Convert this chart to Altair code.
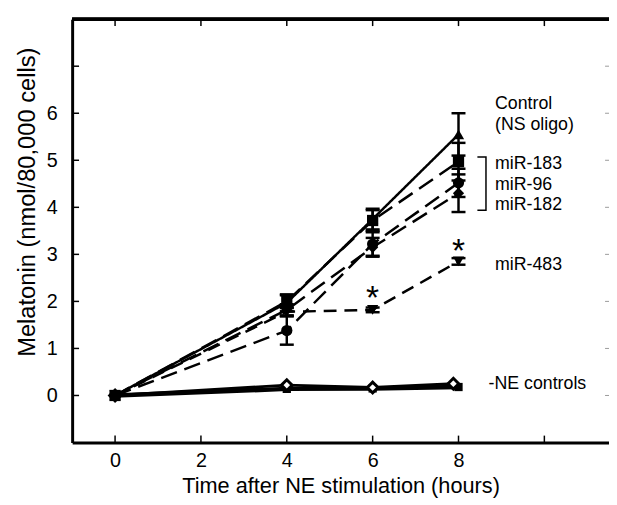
import altair as alt
import pandas as pd

# ---------------- data ----------------
hours = [0, 4, 6, 8]
series_names = ["Control", "miR-183", "miR-96", "miR-182", "miR-483"]
control = [0.0, 1.97, 3.75, 5.55]
control_err = [0.0, 0.18, 0.22, 0.45]
mir183 = [0.0, 2.00, 3.72, 4.97]
mir183_err = [0.0, 0.13, 0.22, 0.40]
mir96 = [0.0, 1.38, 3.22, 4.52]
mir96_err = [0.0, 0.30, 0.25, 0.30]
mir182 = [0.0, 1.82, 3.15, 4.30]
mir182_err = [0.0, 0.12, 0.20, 0.40]
mir483 = [0.0, 1.78, 1.82, 2.85]
mir483_err = [0.0, 0.08, 0.05, 0.07]

ne_open_hours = [0, 4, 6, 7.88]
ne_open = [0.0, 0.22, 0.17, 0.25]
ne_filled_hours = [0, 4, 6, 8]
ne_filled = [0.0, 0.14, 0.15, 0.18]

x_ticks = [0, 2, 4, 6, 8, 10]
x_labels = [0, 2, 4, 6, 8]
y_ticks = [0, 1, 2, 3, 4, 5, 6, 7]
y_labels = [0, 1, 2, 3, 4, 5, 6]

label_text = ["Control", "(NS oligo)", "miR-183", "miR-96", "miR-182", "miR-483", "-NE controls"]
label_x = [8.85, 8.85, 8.85, 8.85, 8.85, 8.85, 8.7]
label_y = [6.19, 5.74, 4.93, 4.48, 4.04, 2.78, 0.24]

star_x = [6, 8]
star_y = [2.04, 3.05]

bracket_x = [8.44, 8.64, 8.64, 8.44]
bracket_y = [5.07, 5.07, 3.94, 3.94]

# ---------------- tables ----------------
vals = [control, mir183, mir96, mir182, mir483]
errs = [control_err, mir183_err, mir96_err, mir182_err, mir483_err]
rows = []
for name, v, e in zip(series_names, vals, errs):
    for h, yv, ev in zip(hours, v, e):
        rows.append({"series": name, "hours": h, "value": yv, "err": ev,
                     "lo": yv - ev, "hi": yv + ev})
df = pd.DataFrame(rows)
err_df = df[df["err"] > 0].copy()
caps = pd.concat([
    err_df.assign(cap=err_df["lo"]),
    err_df.assign(cap=err_df["hi"]),
])

ne_o = pd.DataFrame({"hours": ne_open_hours, "value": ne_open})
ne_f = pd.DataFrame({"hours": ne_filled_hours, "value": ne_filled})
labels = pd.DataFrame({"x": label_x, "y": label_y, "text": label_text})
stars = pd.DataFrame({"x": star_x, "y": star_y, "text": ["*", "*"]})
bracket = pd.DataFrame({"x": bracket_x, "y": bracket_y, "o": list(range(len(bracket_x)))})
xt = pd.DataFrame({"t": x_ticks})
yt = pd.DataFrame({"t": y_ticks})

FONT = "Liberation Sans"
W, H = 544, 429
XMAX = -1 + W / 43.5
xs = alt.Scale(domain=[-1, XMAX], nice=False, zero=False)
ys = alt.Scale(domain=[-1, 8], nice=False, zero=False)

shape_scale = alt.Scale(domain=series_names,
                        range=["triangle-up", "square", "circle", "diamond", "triangle-down"])
dash_scale = alt.Scale(domain=series_names,
                       range=[[1, 0], [17, 8], [17, 8], [17, 8], [13, 8]])

X = lambda f: alt.X(f, scale=xs, axis=None)
Y = lambda f: alt.Y(f, scale=ys, axis=None)

lines = alt.Chart(df).mark_line(color="black", strokeWidth=2.5).encode(
    x=X("hours:Q"), y=Y("value:Q"),
    detail="series:N",
    strokeDash=alt.StrokeDash("series:N", scale=dash_scale, legend=None),
)

ne_line_f = alt.Chart(ne_f).mark_line(color="black", strokeWidth=4.5).encode(
    x=X("hours:Q"), y=Y("value:Q"))
ne_line_o = alt.Chart(ne_o).mark_line(color="black", strokeWidth=3).encode(
    x=X("hours:Q"), y=Y("value:Q"))
ne_pts_f = alt.Chart(ne_f).mark_point(filled=True, color="black", shape="square",
                                      size=70, opacity=1).encode(
    x=X("hours:Q"), y=Y("value:Q"))
ne_pts_o = alt.Chart(ne_o).mark_point(filled=True, fill="white", stroke="black",
                                      strokeWidth=3, shape="diamond", size=120,
                                      opacity=1).encode(
    x=X("hours:Q"), y=Y("value:Q"))

bars = alt.Chart(err_df).mark_rule(color="black", strokeWidth=2.5).encode(
    x=X("hours:Q"), y=Y("lo:Q"), y2="hi:Q")
capmarks = alt.Chart(caps).mark_point(shape="M-1,0L1,0", size=200, filled=False,
                                      color="black", strokeWidth=2.5, opacity=1).encode(
    x=X("hours:Q"), y=Y("cap:Q"))
points = alt.Chart(df).mark_point(filled=True, color="black", size=130, opacity=1).encode(
    x=X("hours:Q"), y=Y("value:Q"),
    shape=alt.Shape("series:N", scale=shape_scale, legend=None),
)

texts = alt.Chart(labels).mark_text(align="left", baseline="middle", font=FONT,
                                    fontSize=18, color="black").encode(
    x=X("x:Q"), y=Y("y:Q"), text="text:N")
star_marks = alt.Chart(stars).mark_text(align="center", baseline="middle", font=FONT,
                                        fontSize=34, color="black").encode(
    x=X("x:Q"), y=Y("y:Q"), text="text:N")
bracket_line = alt.Chart(bracket).mark_line(color="black", strokeWidth=1.5).encode(
    x=X("x:Q"), y=Y("y:Q"), order="o:Q")

# ---------------- frame: inward ticks and top edge ----------------
top_ticks = alt.Chart(xt).mark_rule(color="black", strokeWidth=1.5).encode(
    x=X("t:Q"), y=alt.value(0), y2=alt.value(7))
bottom_ticks = alt.Chart(xt).mark_rule(color="black", strokeWidth=1.5).encode(
    x=X("t:Q"), y=alt.value(H - 7), y2=alt.value(H))
left_ticks = alt.Chart(yt).mark_rule(color="black", strokeWidth=1.5).encode(
    y=Y("t:Q"), x=alt.value(0), x2=alt.value(7))
right_ticks = alt.Chart(yt).mark_rule(color="#9a9a9a", strokeWidth=1).encode(
    y=Y("t:Q"), x=alt.value(W - 4), x2=alt.value(W))
top_edge = alt.Chart(xt).mark_rule(color="black", strokeWidth=3).encode(
    x=alt.value(0), x2=alt.value(W), y=alt.value(0))

main_axes = alt.Chart(df).mark_point(opacity=0).encode(
    x=alt.X("hours:Q", scale=xs, axis=alt.Axis(
        orient="bottom", values=x_labels, ticks=False, grid=False,
        domainWidth=3, domainColor="black", labelFont=FONT, labelFontSize=20,
        labelColor="black", labelPadding=8, title="Time after NE stimulation (hours)",
        titleFont=FONT, titleFontSize=22, titleFontWeight="normal",
        titleColor="black", titlePadding=6)),
    y=alt.Y("value:Q", scale=ys, axis=alt.Axis(
        orient="left", values=y_labels, ticks=False, grid=False,
        domainWidth=3, domainColor="black", labelFont=FONT, labelFontSize=20,
        labelColor="black", labelPadding=15, title="Melatonin (nmol/80,000 cells)",
        titleFont=FONT, titleFontSize=24, titleFontWeight="normal",
        titleColor="black", titlePadding=7, titleY=185)),
)

chart = alt.layer(
    main_axes, top_edge, top_ticks, bottom_ticks, left_ticks, right_ticks,
    lines, ne_line_f, ne_line_o, ne_pts_f, ne_pts_o, bars, capmarks, points,
    bracket_line, texts, star_marks,
).resolve_axis(x="independent", y="independent").properties(
    width=W, height=H, autosize="none",
    padding={"left": 65, "top": 8, "right": 0, "bottom": 60},
).configure_view(stroke=None)

chart.save("out.html", embed_options={"renderer": "svg", "actions": False})
